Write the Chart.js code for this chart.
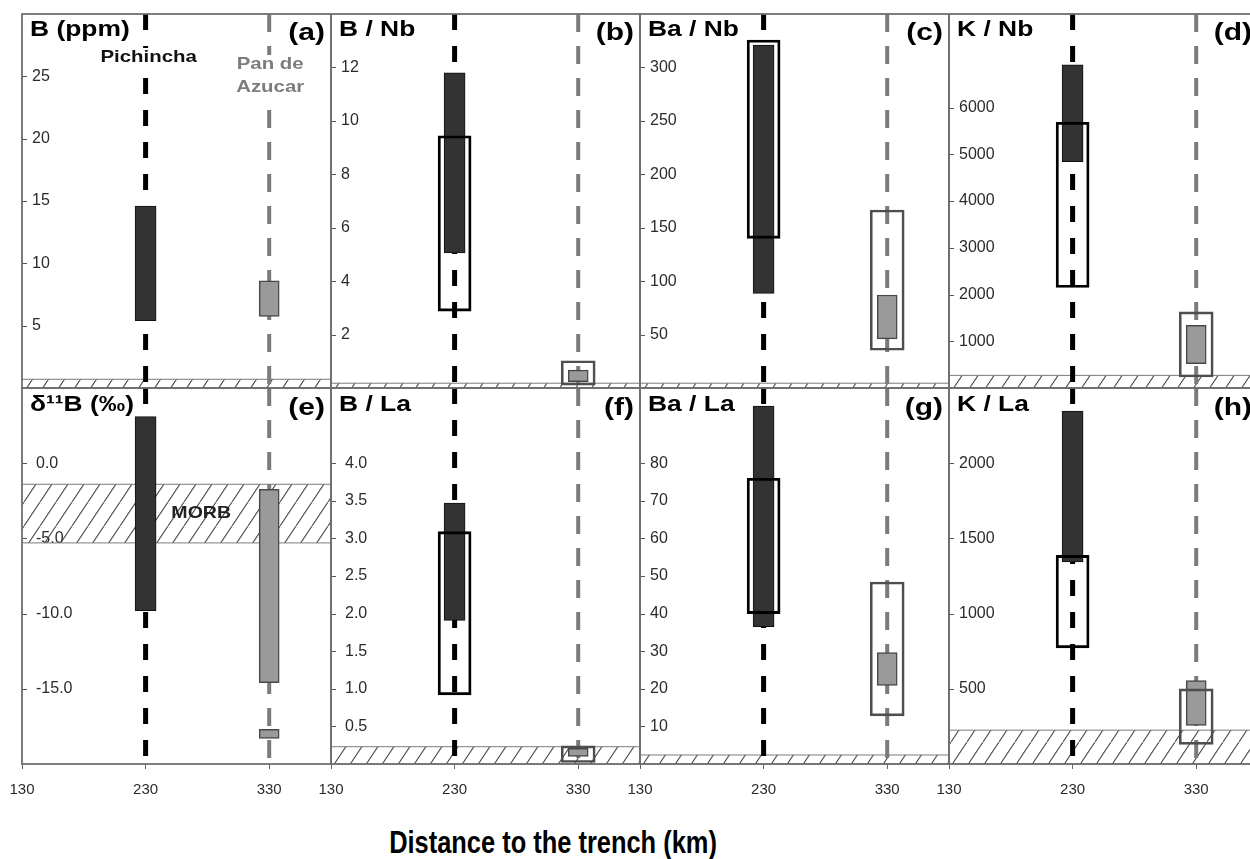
<!DOCTYPE html>
<html>
<head>
<meta charset="utf-8">
<title>Distance to the trench</title>
<script src="https://cdn.jsdelivr.net/npm/chart.js@4.4.1/dist/chart.umd.min.js"></script>
<style>
  html, body { margin: 0; padding: 0; background: #fff; }
  body { width: 1250px; height: 859px; position: relative; overflow: hidden; font-family: "Liberation Sans", Arial, sans-serif; }
  canvas { position: absolute; }
  #xtitle { position: absolute; left: 553px; top: 843px; transform: translate(-50%, -50%) scaleX(0.82); font-weight: bold; font-size: 31px; white-space: nowrap; color: #000; }
</style>
</head>
<body>
<div id="xtitle">Distance to the trench (km)</div>
<script>
// distance to the trench of the two volcanic centres (km)
const distances = [230, 330];
const siteNames = ['Pichincha', 'Pan de Azucar'];
const xTicks = [130, 230, 330];
const xRange = [130, 380];

// panels a-h, row by row
const panelTitles = ['B (ppm)', 'B / Nb', 'Ba / Nb', 'K / Nb', 'δ¹¹B (‰)', 'B / La', 'Ba / La', 'K / La'];
const panelLetters = ['(a)', '(b)', '(c)', '(d)', '(e)', '(f)', '(g)', '(h)'];
const yMin = [0, 0, 0, 0, -20, 0, 0, 0];
const yMax = [30, 14, 350, 8000, 5, 5, 100, 2500];
const yTickValues = [
  [5, 10, 15, 20, 25],
  [2, 4, 6, 8, 10, 12],
  [50, 100, 150, 200, 250, 300],
  [1000, 2000, 3000, 4000, 5000, 6000],
  [0, -5, -10, -15],
  [0.5, 1, 1.5, 2, 2.5, 3, 3.5, 4],
  [10, 20, 30, 40, 50, 60, 70, 80],
  [500, 1000, 1500, 2000]
];
const yDecimals = [0, 0, 0, 0, 1, 1, 0, 0];

// [low, high] ranges; null where a panel has no such range
const pichinchaBar = [[5.4, 14.6], [5.06, 11.8], [88.5, 321], [4843, 6915], [-9.8, 3.1], [1.91, 3.47], [36.5, 95.2], [1343, 2347]];
const pichinchaBox = [null, [2.88, 9.44], [140, 325.6], [2150, 5685], null, [0.92, 3.09], [40, 76], [772, 1387]];
const azucarBar = [[5.75, 8.6], [0.24, 0.67], [46, 87], [520, 1343], [-14.6, -1.73], [0.1, 0.21], [20.9, 29.6], [257, 555]];
const azucarBar2 = [null, null, null, null, [-18.3, -17.7], null, null, null];
const azucarBox = [null, [0.11, 1.02], [35.3, 166.6], [235, 1628], null, [0.02, 0.24], [12.8, 48.4], [131, 500]];
const morbBand = [[0, 0.7], [0, 0.18], [0, 4.5], [0, 270], [-5.3, -1.4], [0, 0.23], [0, 2.4], [0, 225]];

const colLeft = [22, 331, 640, 949];
const panelW = 309;
const rowTop = [14, 388];
const rowH = [374, 376];
const PAD = 30;
const FONT = '"Liberation Sans", Arial, sans-serif';

function hatch(ctx) {
  const c = document.createElement('canvas');
  c.width = 16; c.height = 24;
  const g = c.getContext('2d');
  g.strokeStyle = '#4a4a4a';
  g.lineWidth = 1.1;
  g.beginPath();
  for (const [dx, dy] of [[0, 0], [-16, 24], [16, -24]]) {
    g.moveTo(dx, 24 + dy);
    g.lineTo(16 + dx, dy);
  }
  g.stroke();
  return ctx.createPattern(c, 'repeat');
}

// bold lettering is a little wider than the plain face
function wideText(ctx, text, x, y, align, sx) {
  ctx.save();
  ctx.translate(x, y);
  ctx.scale(sx, 1);
  ctx.textAlign = align;
  ctx.fillText(text, 0, 0);
  ctx.restore();
}

const panelDecor = {
  id: 'panelDecor',
  beforeDatasetsDraw(chart, args, opts) {
    const {ctx, chartArea: a, scales: {y}} = chart;
    const band = morbBand[opts.index];
    const top = y.getPixelForValue(band[1]);
    const bot = y.getPixelForValue(band[0]);
    ctx.save();
    ctx.fillStyle = hatch(ctx);
    ctx.fillRect(a.left, top, a.right - a.left, bot - top);
    ctx.strokeStyle = '#7a7a7a';
    ctx.lineWidth = 1;
    ctx.beginPath();
    ctx.moveTo(a.left, top); ctx.lineTo(a.right, top);
    ctx.moveTo(a.left, bot); ctx.lineTo(a.right, bot);
    ctx.stroke();
    ctx.restore();
  },
  afterDatasetsDraw(chart, args, opts) {
    const {ctx, chartArea: a, scales: {x, y}} = chart;
    const i = opts.index;
    ctx.save();
    ctx.textBaseline = 'middle';
    if (i === 0) {
      // site names, knocked out of the dashed lines
      const tag = (text, cx, cy, color) => {
        ctx.font = 'bold 17px ' + FONT;
        const w = ctx.measureText(text).width * 1.2;
        ctx.fillStyle = '#fff';
        ctx.fillRect(cx - w / 2 - 3, cy - 9, w + 6, 19);
        ctx.fillStyle = color;
        wideText(ctx, text, cx, cy, 'center', 1.2);
      };
      tag(siteNames[0], x.getPixelForValue(distances[0]) + 3, a.top + 43, '#111');
      const words = siteNames[1].split(' ');
      const px = x.getPixelForValue(distances[1]) + 1;
      tag(words.slice(0, 2).join(' '), px, a.top + 50, '#7d7d7d');
      tag(words[2], px, a.top + 73, '#7d7d7d');
    }
    if (i === 4) {
      const band = morbBand[i];
      ctx.font = 'bold 17px ' + FONT;
      ctx.fillStyle = '#222';
      wideText(ctx, 'MORB', x.getPixelForValue(275), y.getPixelForValue((band[0] + band[1]) / 2), 'center', 1.15);
    }
    ctx.restore();
  },
  afterDraw(chart, args, opts) {
    const {ctx, chartArea: a, scales: {y}} = chart;
    const i = opts.index;
    const row = i < 4 ? 0 : 1;
    ctx.save();
    // tick marks just inside the left frame
    ctx.strokeStyle = '#555';
    ctx.lineWidth = 1;
    ctx.beginPath();
    y.ticks.forEach(t => {
      const py = Math.round(y.getPixelForValue(t.value)) + 0.5;
      ctx.moveTo(a.left, py);
      ctx.lineTo(a.left + 5, py);
    });
    ctx.stroke();
    // frame
    ctx.strokeStyle = '#6f6f6f';
    ctx.lineWidth = 1.8;
    ctx.strokeRect(a.left, a.top, a.right - a.left, a.bottom - a.top);
    // panel title and letter
    ctx.fillStyle = '#000';
    ctx.textBaseline = 'middle';
    ctx.font = 'bold 22px ' + FONT;
    wideText(ctx, panelTitles[i], a.left + 8, a.top + (row ? 17 : 16), 'left', 1.2);
    ctx.font = 'bold 24px ' + FONT;
    wideText(ctx, panelLetters[i], a.right - 6, a.top + (row ? 20 : 19), 'right', 1.25);
    ctx.restore();
  }
};

function rangeBar(x, range, style, order) {
  return Object.assign({
    type: 'bar',
    data: range ? [{x: x, y: range}] : [],
    borderSkipped: false,
    grouped: false,
    order: order
  }, style);
}

function dashedLine(x, lo, hi, color, width, dash) {
  return {
    type: 'line',
    data: [{x: x, y: hi}, {x: x, y: lo}],
    borderColor: color,
    borderWidth: width,
    borderDash: dash,
    pointRadius: 0,
    fill: false,
    order: 10
  };
}

const darkFill = {backgroundColor: '#333', borderColor: '#111', borderWidth: 1, barThickness: 21};
const greyFill = {backgroundColor: '#9a9a9a', borderColor: '#484848', borderWidth: 1.5, barThickness: 20};
const darkBox = {backgroundColor: 'rgba(0,0,0,0)', borderColor: '#000', borderWidth: 2.2, barThickness: 33};
const greyBox = {backgroundColor: 'rgba(0,0,0,0)', borderColor: '#4e4e4e', borderWidth: 2, barThickness: 34};

for (let i = 0; i < 8; i++) {
  const row = i < 4 ? 0 : 1;
  const col = i % 4;
  const canvas = document.createElement('canvas');
  const w = panelW + 2 * PAD;
  const h = PAD + rowH[row] + PAD;
  canvas.width = w; canvas.height = h;
  canvas.style.left = (colLeft[col] - PAD) + 'px';
  canvas.style.top = (rowTop[row] - PAD) + 'px';
  canvas.style.width = w + 'px';
  canvas.style.height = h + 'px';
  document.body.appendChild(canvas);

  const datasets = [
    dashedLine(distances[0], yMin[i], yMax[i], '#000', 5, [16, 16]),
    dashedLine(distances[1], yMin[i], yMax[i], '#7b7b7b', 4, [18, 14]),
    rangeBar(distances[0], pichinchaBar[i], darkFill, 3),
    rangeBar(distances[1], azucarBar[i], greyFill, 3),
    rangeBar(distances[1], azucarBar2[i], greyFill, 3),
    rangeBar(distances[0], pichinchaBox[i], darkBox, 1),
    rangeBar(distances[1], azucarBox[i], greyBox, 1)
  ];

  const xScale = {
    type: 'linear',
    min: xRange[0],
    max: xRange[1],
    offset: false,
    display: row === 1,
    afterBuildTicks: s => { s.ticks = xTicks.map(v => ({value: v})); },
    grid: {offset: false, drawOnChartArea: false, drawTicks: true, tickLength: 5, color: '#666'},
    border: {display: false},
    ticks: {font: {family: FONT, size: 15}, color: '#2b2b2b', padding: 12, maxRotation: 0}
  };
  if (row === 1) xScale.afterFit = s => { s.height = PAD; };

  new Chart(canvas, {
    type: 'bar',
    data: {datasets: datasets},
    options: {
      responsive: false,
      animation: false,
      events: [],
      layout: {padding: {left: PAD, right: PAD, top: PAD, bottom: row ? 0 : PAD}},
      plugins: {
        legend: {display: false},
        tooltip: {enabled: false},
        panelDecor: {index: i}
      },
      scales: {
        x: xScale,
        y: {
          type: 'linear',
          min: yMin[i],
          max: yMax[i],
          afterBuildTicks: s => { s.ticks = yTickValues[i].map(v => ({value: v})); },
          afterFit: s => { s.width = 0; },
          grid: {display: false},
          border: {display: false},
          ticks: {
            mirror: true,
            padding: (i === 4 || i === 5) ? 14 : 10,
            font: {family: FONT, size: 16},
            color: '#2b2b2b',
            callback: v => Number(v).toFixed(yDecimals[i])
          }
        }
      }
    },
    plugins: [panelDecor]
  });
}
</script>
</body>
</html>
